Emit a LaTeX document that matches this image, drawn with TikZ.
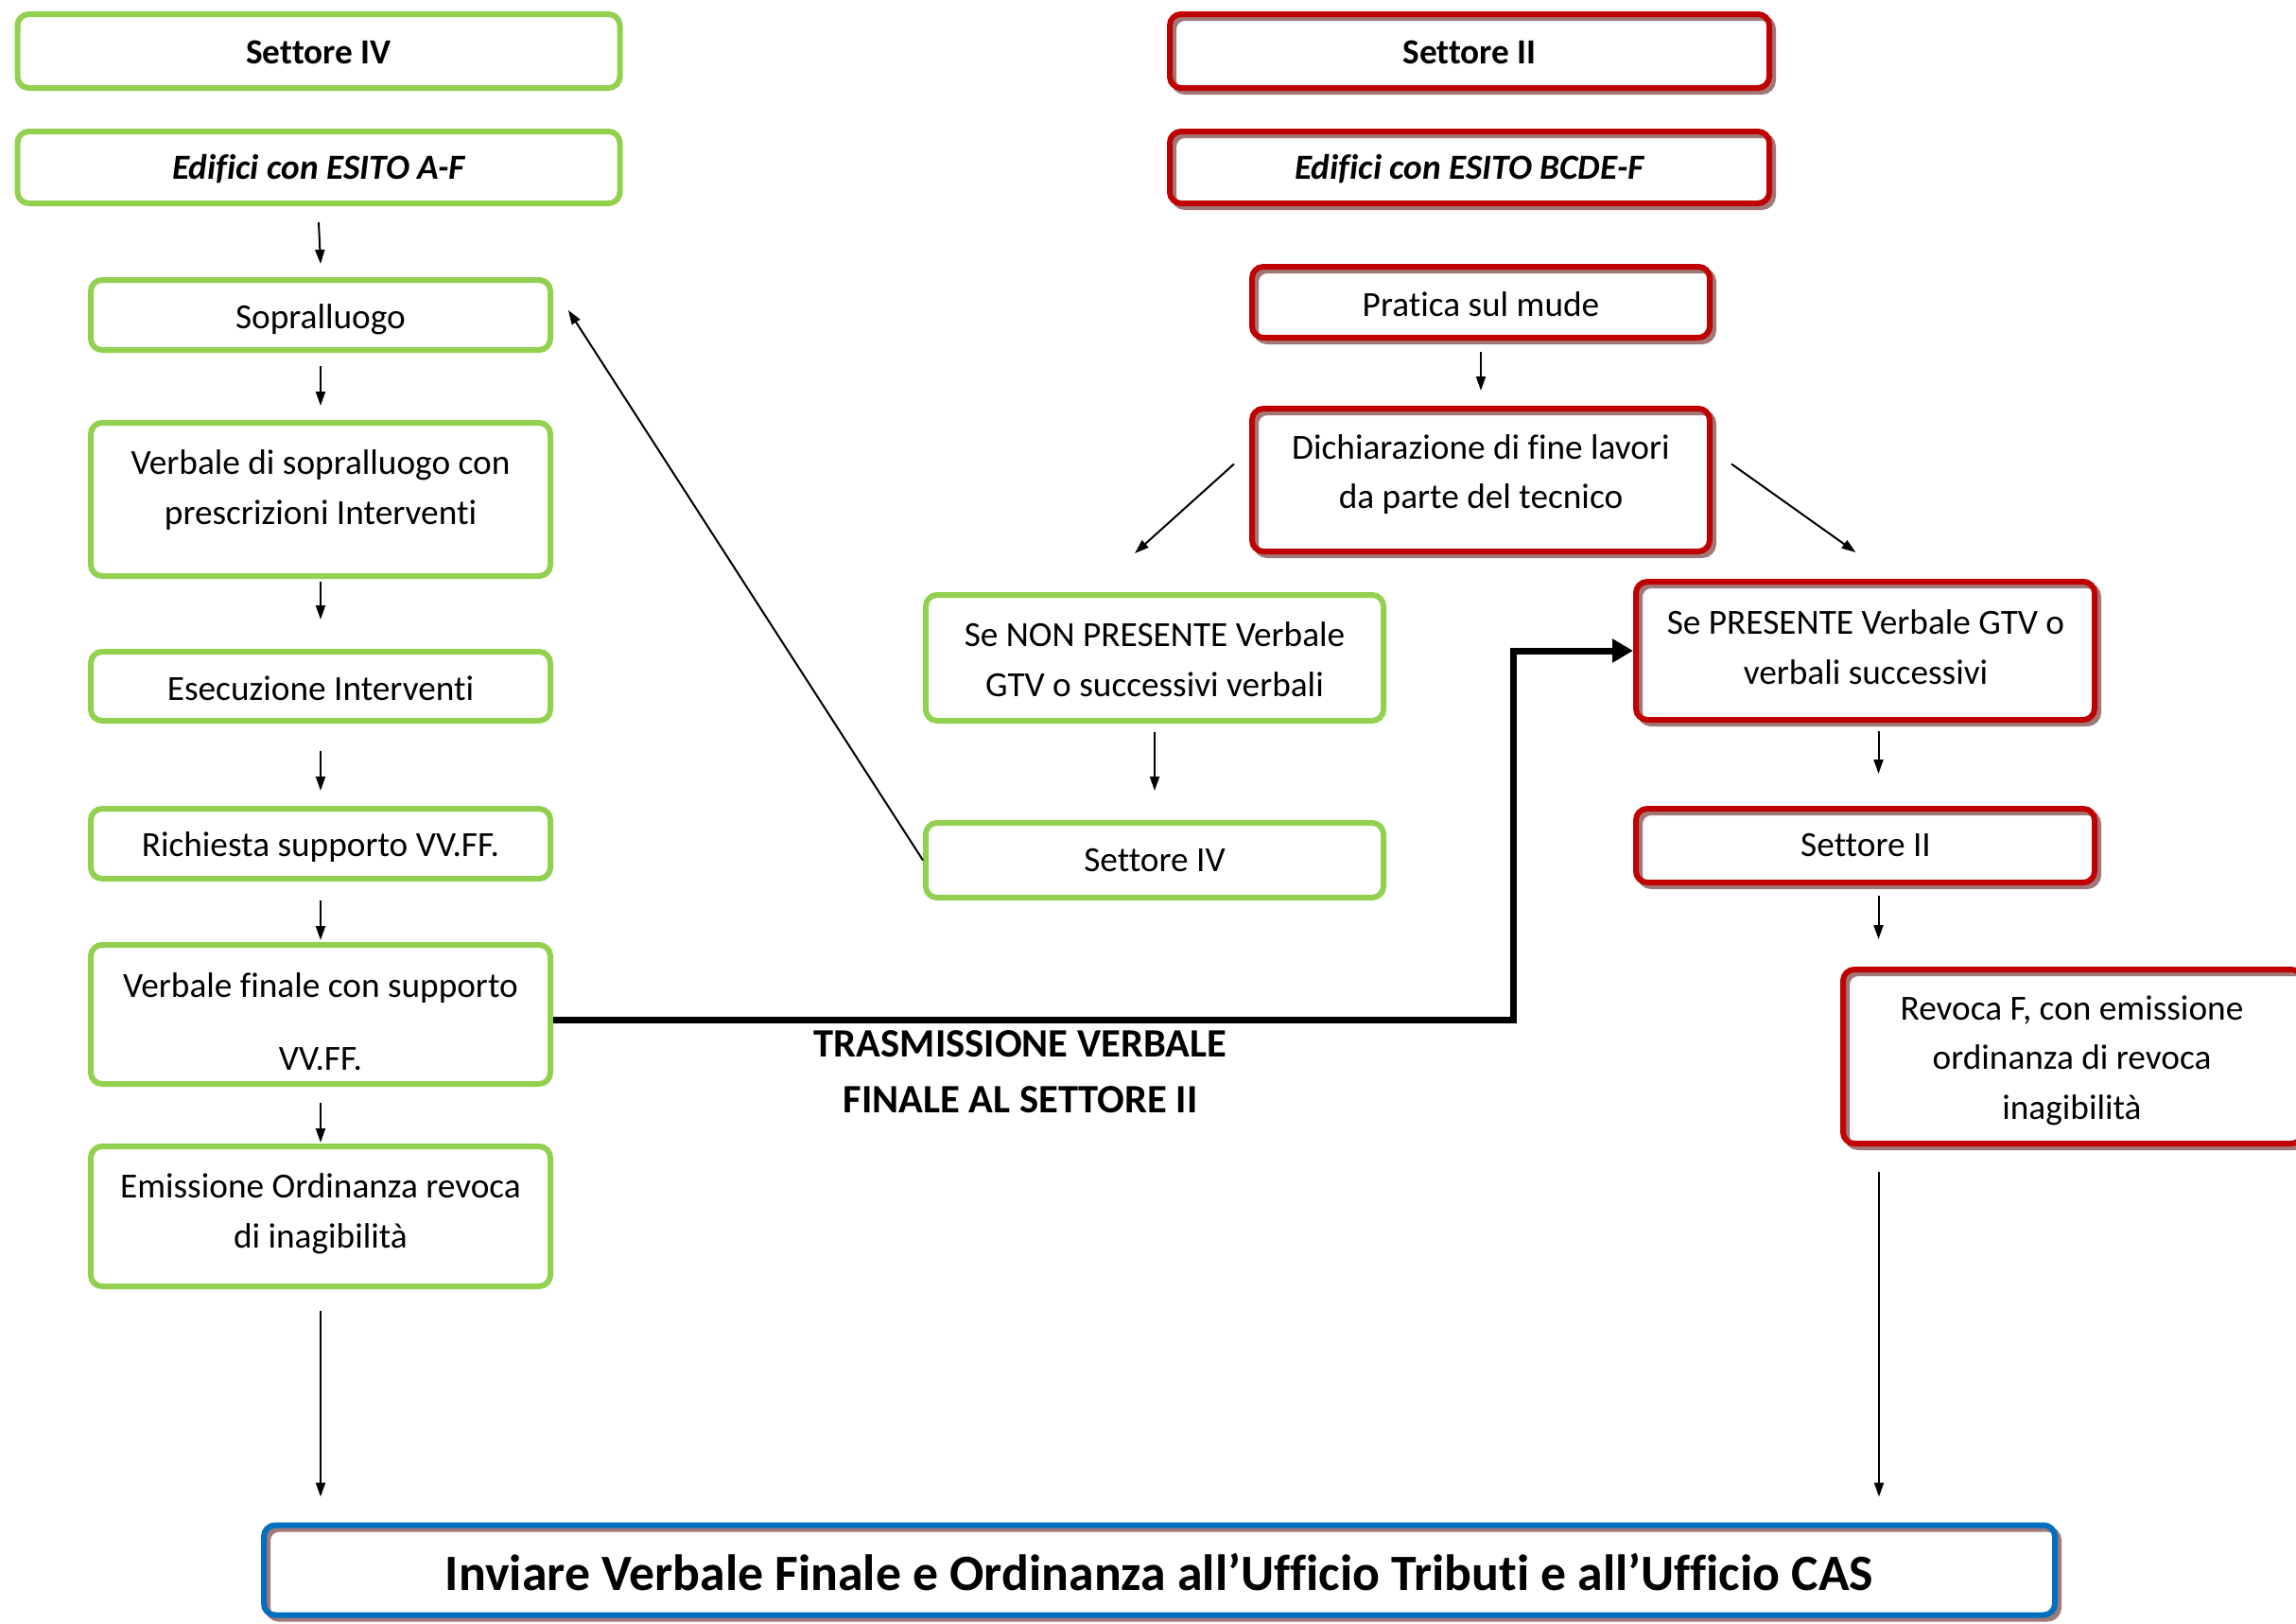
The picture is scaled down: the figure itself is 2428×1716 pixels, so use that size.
\documentclass[tikz,border=0pt]{standalone}
\usepackage{fontspec}
\setmainfont[Ligatures={NoCommon}]{Carlito}
\usetikzlibrary{arrows.meta,shadows}
\definecolor{gr}{HTML}{92D050}
\definecolor{rd}{HTML}{C00000}
\definecolor{bl}{HTML}{0070C0}
\definecolor{shd}{RGB}{160,120,120}
\begin{document}
\begin{tikzpicture}[x=1pt,y=-1pt,
  box/.style={rounded corners=12pt, line width=6pt, inner sep=0pt},
  gbox/.style={box, draw=gr},
  rbox/.style={box, draw=rd, general shadow={shadow xshift=4pt, shadow yshift=-4pt, draw=shd, line width=6pt}},
  bbox/.style={box, draw=bl, general shadow={shadow xshift=4pt, shadow yshift=-4pt, draw=shd, line width=6pt}},
  txt/.style={align=center, inner sep=0pt, font=\fontsize{37.3}{52.6}\selectfont},
  btxt/.style={txt, font=\fontsize{37.3}{52.6}\selectfont\bfseries},
  bitxt/.style={txt, font=\fontsize{37.3}{52.6}\selectfont\bfseries\itshape},
  arr/.style={-{Triangle[length=15pt,width=10pt]}, line width=2pt},
  thk/.style={-{Triangle[length=22pt,width=24pt]}, line width=7pt},
]
\useasboundingbox (0,0) rectangle (2428,1716);

% left column
\node[gbox, minimum width=637pt, minimum height=78pt] (s4a) at (337,54) {};
\node[btxt] (s4a-t) at (337,55) {Settore IV};
\node[gbox, minimum width=637pt, minimum height=76pt] (edA) at (337,177) {};
\node[bitxt] (edA-t) at (337,179) {Edifici con ESITO A-F};
\node[gbox, minimum width=486pt, minimum height=74pt] (sop) at (339,333) {};
\node[txt] (sop-t) at (339,338) {Sopralluogo};
\node[gbox, minimum width=486pt, minimum height=162pt] (vsop) at (339,528) {};
\node[txt] (vsop-t) at (339,518) {Verbale di sopralluogo con\\prescrizioni Interventi};
\node[gbox, minimum width=486pt, minimum height=73pt] (esec) at (339,725.5) {};
\node[txt] (esec-t) at (339,728) {Esecuzione Interventi};
\node[gbox, minimum width=486pt, minimum height=74pt] (rich) at (339,892) {};
\node[txt] (rich-t) at (339,896) {Richiesta supporto VV.FF.};
\node[gbox, minimum width=486pt, minimum height=147pt] (vfin) at (339,1072.5) {};
\node[txt, font=\fontsize{37.3}{77.4}\selectfont] (vfin-t) at (339,1080) {Verbale finale con supporto\\VV.FF.};
\node[gbox, minimum width=486pt, minimum height=148pt] (emis) at (339,1286) {};
\node[txt] (emis-t) at (339,1283) {Emissione Ordinanza revoca\\di inagibilità};

% middle column
\node[gbox, minimum width=484pt, minimum height=133pt] (nonp) at (1221,695.5) {};
\node[txt] (nonp-t) at (1221,697) {Se NON PRESENTE Verbale\\GTV o successivi verbali};
\node[gbox, minimum width=484pt, minimum height=79pt] (s4b) at (1221,909.5) {};
\node[txt] (s4b-t) at (1221,910) {Settore IV};

% right column
\node[rbox, minimum width=634pt, minimum height=78pt] (s2a) at (1554,54) {};
\node[btxt] (s2a-t) at (1554,55) {Settore II};
\node[rbox, minimum width=634pt, minimum height=76pt] (edB) at (1554,177) {};
\node[bitxt] (edB-t) at (1554,179) {Edifici con ESITO BCDE-F};
\node[rbox, minimum width=484pt, minimum height=75pt] (prat) at (1566,319.5) {};
\node[txt] (prat-t) at (1566,322) {Pratica sul mude};
\node[rbox, minimum width=484pt, minimum height=151pt] (dich) at (1566,507.5) {};
\node[txt] (dich-t) at (1566,501.5) {Dichiarazione di fine lavori\\da parte del tecnico};
\node[rbox, minimum width=485pt, minimum height=146pt] (pres) at (1972.5,688) {};
\node[txt] (pres-t) at (1973,684) {Se PRESENTE Verbale GTV o\\verbali successivi};
\node[rbox, minimum width=485pt, minimum height=78pt] (s2b) at (1972.5,894) {};
\node[txt] (s2b-t) at (1973,894) {Settore II};
\node[rbox, minimum width=486pt, minimum height=184pt] (rev) at (2192,1117) {};
\node[txt] (rev-t) at (2191,1121) {Revoca F, con emissione\\ordinanza di revoca\\inagibilità};

% bottom
\node[bbox, minimum width=1894pt, minimum height=95pt] (bot) at (1226,1660) {};
\node[txt, font=\fontsize{53.8}{60}\selectfont\bfseries] (bot-t) at (1226,1662) {Inviare Verbale Finale e Ordinanza all’Ufficio Tributi e all’Ufficio CAS};

% label
\node[txt, font=\fontsize{42.6}{58.8}\selectfont\bfseries] (lab) at (1079,1133) {TRASMISSIONE VERBALE\\FINALE AL SETTORE II};

% left arrows
\draw[arr] ([yshift=-17pt]edA.south) -- ([yshift=14pt]sop.north);
\draw[arr] ([yshift=-14pt]sop.south) -- ([yshift=15pt]vsop.north);
\draw[arr] ([yshift=-3pt]vsop.south) -- ([yshift=31pt]esec.north);
\draw[arr] ([yshift=-29pt]esec.south) -- ([yshift=16pt]rich.north);
\draw[arr] ([yshift=-20pt]rich.south) -- ([yshift=2pt]vfin.north);
\draw[arr] ([yshift=-17pt]vfin.south) -- ([yshift=1pt]emis.north);
\coordinate[yshift=-23pt] (a7s) at (emis.south);
\coordinate[yshift=27pt] (a7e) at (bot.north -| a7s);
\draw[arr] (a7s) -- (a7e);

% middle arrows
\draw[arr] ([yshift=-9pt]nonp.south) -- ([yshift=31pt]s4b.north);
\draw[arr] (s4b.west) -- ([shift={(16pt,5pt)}]sop.east);

% right arrows
\draw[arr] ([yshift=-12pt]prat.south) -- ([yshift=16pt]dich.north);
\draw[arr] ([shift={(-16pt,17pt)}]dich.west) -- ([shift={(-21pt,41pt)}]nonp.north);
\draw[arr] ([shift={(20pt,17pt)}]dich.east) -- ([shift={(-10pt,28pt)}]pres.north);
\draw[arr] ([shift={(14pt,-9pt)}]pres.south) -- ([shift={(14pt,34pt)}]s2b.north);
\draw[arr] ([shift={(14pt,-11pt)}]s2b.south) -- ([shift={(14pt,29pt)}]s2b.south |- rev.north);
\coordinate[shift={(41pt,-27pt)}] (a14s) at (rev.south west);
\coordinate[yshift=27pt] (a14e) at (bot.north -| a14s);
\draw[arr] (a14s) -- (a14e);

% thick transmission line
\draw[thk] ([yshift=-6pt]vfin.east) -| ([xshift=-127pt]pres.west) -- (pres.west);
\end{tikzpicture}
\end{document}
